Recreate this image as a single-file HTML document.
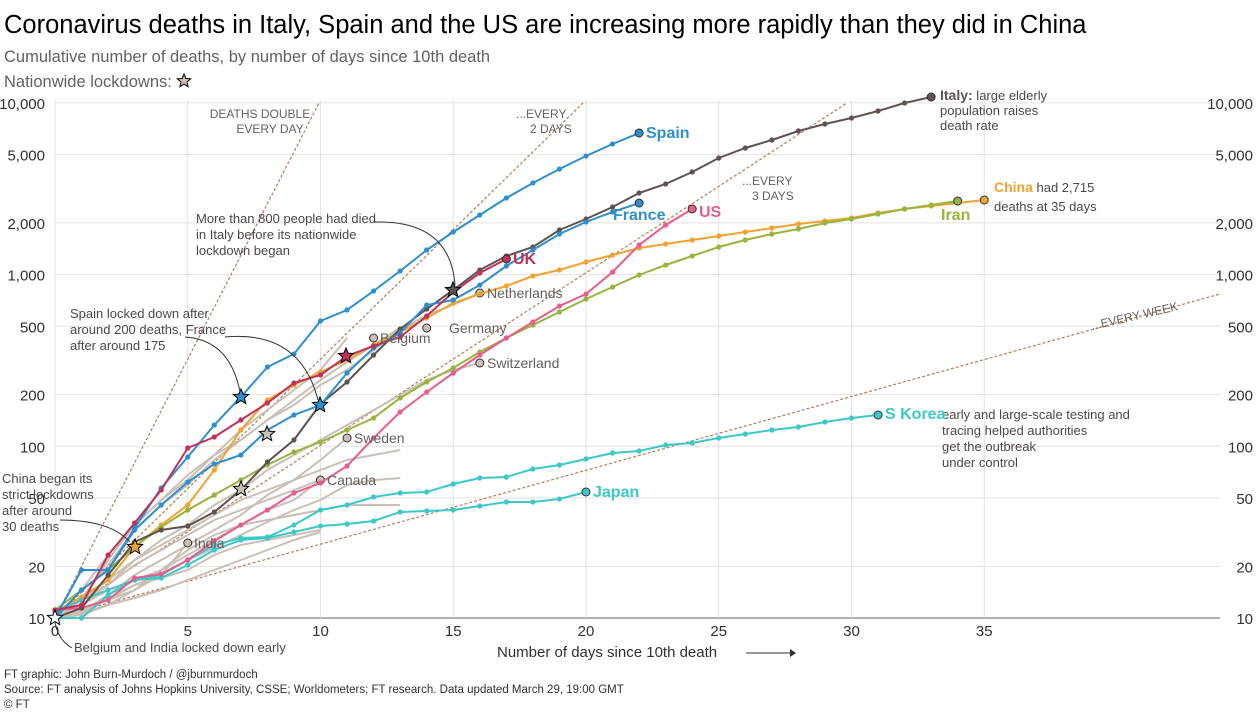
<!DOCTYPE html>
<html><head><meta charset="utf-8">
<style>
html,body{margin:0;padding:0;background:#fff;}
body{width:1260px;height:709px;overflow:hidden;font-family:"Liberation Sans",sans-serif;}
svg text{font-family:"Liberation Sans",sans-serif;}
</style></head><body>
<svg id="s" width="1260" height="709" xmlns="http://www.w3.org/2000/svg">
<text x="4" y="33" font-size="25.5" fill="#000">Coronavirus deaths in Italy, Spain and the US are increasing more rapidly than they did in China</text>
<text x="4" y="62" font-size="16.5" fill="#66605c">Cumulative number of deaths, by number of days since 10th death</text>
<text x="4" y="87" font-size="16.5" fill="#66605c">Nationwide lockdowns:</text>
<g id="grid"></g>
<g id="dash"></g>
<g id="gray"></g>
<g id="main"></g>
<g id="stars"></g>
<g font-size="12" fill="#66605c">
<text x="260" y="118" text-anchor="middle">DEATHS DOUBLE</text>
<text x="270" y="133" text-anchor="middle">EVERY DAY</text>
<text x="516" y="118">...EVERY</text>
<text x="530" y="133">2 DAYS</text>
<text x="742" y="185">...EVERY</text>
<text x="752" y="200">3 DAYS</text>
<text x="1092" y="330" transform="rotate(-13 1092 330)">...EVERY WEEK</text>
</g>
<g font-size="13" fill="#4d4845">
<text x="196" y="223">More than 800 people had died</text>
<text x="196" y="239">in Italy before its nationwide</text>
<text x="196" y="255">lockdown began</text>
<text x="70" y="318">Spain locked down after</text>
<text x="70" y="334">around 200 deaths, France</text>
<text x="70" y="350">after around 175</text>
<text x="2" y="483">China began its</text>
<text x="2" y="499">strict lockdowns</text>
<text x="2" y="515">after around</text>
<text x="2" y="531">30 deaths</text>
<text x="74" y="652">Belgium and India locked down early</text>
<text x="940" y="100"><tspan font-weight="bold" fill="#5e5350" font-size="14">Italy:</tspan> large elderly</text>
<text x="940" y="115">population raises</text>
<text x="940" y="130">death rate</text>
<text x="994" y="192"><tspan font-weight="bold" fill="#f2a230" font-size="14">China</tspan> had 2,715</text>
<text x="994" y="211">deaths at 35 days</text>
<text x="942" y="419">early and large-scale testing and</text>
<text x="942" y="435">tracing helped authorities</text>
<text x="942" y="451">get the outbreak</text>
<text x="942" y="467">under control</text>
</g>
<g fill="none" stroke="#333" stroke-width="1">
<path d="M375 222 Q450 220 455 285"/>
<path d="M185 337 Q230 340 240 392"/>
<path d="M225 337 Q300 330 318 400"/>
<path d="M60 520 Q110 520 130 542"/>
<path d="M55 622 Q58 640 72 648"/>
</g>
<g font-size="16" font-weight="bold">
<text x="646" y="138" fill="#2e8fd0">Spain</text>
<text x="613" y="220" fill="#2e8fd0">France</text>
<text x="699" y="217" fill="#e95d8c">US</text>
<text x="513" y="264" fill="#c0325a">UK</text>
<text x="941" y="220" fill="#97b43c">Iran</text>
<text x="885" y="419" fill="#3cc8c8">S Korea</text>
<text x="593" y="497" fill="#3cc8c8">Japan</text>
</g>
<g font-size="14" fill="#66605c">
<text x="487" y="298">Netherlands</text>
<text x="449" y="333">Germany</text>
<text x="380" y="343">Belgium</text>
<text x="487" y="368">Switzerland</text>
<text x="354" y="443">Sweden</text>
<text x="327" y="485">Canada</text>
<text x="194" y="548">India</text>
</g>
<text x="497" y="657" font-size="15" fill="#33302e">Number of days since 10th death</text>
<path d="M746 653 H790" stroke="#33302e"/><path d="M790 649 L796 653 L790 657Z" fill="#33302e"/>
<g font-size="11.5" fill="#33302e">
<text x="4" y="678">FT graphic: John Burn-Murdoch / @jburnmurdoch</text>
<text x="4" y="693">Source: FT analysis of Johns Hopkins University, CSSE; Worldometers; FT research. Data updated March 29, 19:00 GMT</text>
<text x="4" y="708">© FT</text>
</g>
</svg>
<script>
var NS="http://www.w3.org/2000/svg";
function el(p,t,a){var e=document.createElementNS(NS,t);for(var k in a)e.setAttribute(k,a[k]);p.appendChild(e);return e;}
function X(d){return 55+26.55*d;}
function Y(v){return 618-171.7*Math.log10(v/10);}
var g=document.getElementById('grid');
[10,20,50,100,200,500,1000,2000,5000,10000].forEach(function(v){
 var y=Y(v);el(g,'line',{x1:55,x2:1220,y1:y,y2:y,stroke:v==10?'#66605c':'#e6e1dd','stroke-width':1});
 var s=v.toLocaleString('en-US');
 var t=el(g,'text',{x:45,y:y+6,'text-anchor':'end','font-size':15,fill:'#33302e'});t.textContent=s;
 t=el(g,'text',{x:1253,y:y+6,'text-anchor':'end','font-size':15,fill:'#33302e'});t.textContent=s;
});
for(var d=0;d<=35;d+=5){var x=X(d);el(g,'line',{x1:x,x2:x,y1:100,y2:618,stroke:'#e6e1dd'});
 var t=el(g,'text',{x:x,y:636,'text-anchor':'middle','font-size':15,fill:'#33302e'});t.textContent=d;}
var dg=document.getElementById('dash');
[[1,319],[2,583],[3,847]].forEach(function(a){el(dg,'line',{x1:55,y1:618,x2:a[1],y2:103,stroke:'#b0805a','stroke-dasharray':'3,2','stroke-width':1.2});});
el(dg,'line',{x1:55,y1:618,x2:1220,y2:294,stroke:'#b0805a','stroke-dasharray':'3,2','stroke-width':1.2});
function series(par,ys,col,w,dots,endc){
 var pts=ys.map(function(y,i){return X(i)+','+y;}).join(' ');
 el(par,'polyline',{points:pts,fill:'none',stroke:col,'stroke-width':w});
 if(dots)ys.forEach(function(y,i){el(par,'circle',{cx:X(i),cy:y,r:2.6,fill:col});});
 if(endc){var i=ys.length-1;el(par,'circle',{cx:X(i),cy:ys[i],r:4,fill:col,stroke:'#33302e','stroke-width':1});}
}
var gr=document.getElementById('gray'),gc='#c9bfb5';
var grays=[
[618,600,560,525,500,480,455,440,420,405,385,370,350,330,315,305,293],
[618,598,565,530,505,485,460,440,420,400,380,362,345,328],
[618,590,555,525,500,475,455,430,410,390,370,338],
[618,605,585,560,540,525,505,490,470,455,440,425,410,395,380,370,363],
[618,612,595,575,560,545,530,515,495,480,460,438],
[618,610,600,590,570,555,540,525,510,500,480],
[618,615,605,590,575,543],
[612,600,580,560,545,530,515,500,490,480,470,460,455,450],
[620,612,598,585,575,560,548,535,522,510,500,485,480,478],
[615,605,590,580,570,550,535,525,520,515,510,505,505,505],
[618,612,600,585,578,570,555,545,540,535,530],
[610,600,585,565,550,535,520,510,500,490,480],
[618,613,605,598,590,580,570,560,550,540,532]];
grays.forEach(function(s){series(gr,s,gc,2,false,false);});
[[16,293],[14,328],[12,338],[16,363],[11,438],[10,480],[5,543]].forEach(function(p){el(gr,'circle',{cx:X(p[0]),cy:p[1],r:4,fill:'#c9bfb5',stroke:'#33302e'});});
var m=document.getElementById('main');
series(m,[612,597,580,547,525,505,470,430,400,385,372,360,345,332,318,303,294,286,276,270,262,255,248,244,240,236,232,228,224,221,218,213,209,206,203,200],'#f2a230',2,true,true);
series(m,[610,590,570,547,527,510,495,480,465,452,442,430,418,398,382,368,352,338,325,312,299,287,275,265,256,247,240,234,229,223,219,214,209,205,201],'#97b43c',2,true,true);
series(m,[618,618,595,580,575,560,545,538,537,525,510,505,497,493,492,484,478,477,469,465,459,453,451,445,443,438,434,430,427,422,418,415],'#3cc8c8',2,true,true);
series(m,[612,600,590,580,578,565,550,540,538,532,526,524,521,512,511,510,506,502,502,499,492],'#3cc8c8',2,true,true);
series(m,[610,608,600,578,574,560,541,525,510,493,483,466,438,412,392,373,355,338,322,306,294,272,245,225,209],'#e95d8c',2,true,true);
series(m,[618,608,575,542,530,526,512,490,462,440,404,382,355,329,309,290,270,256,247,230,219,207,193,184,172,158,148,140,131,124,118,111,103,97],'#5e5350',2,true,true);
series(m,[618,590,570,530,505,482,464,455,430,415,405,373,348,333,305,300,285,266,250,234,222,212,203],'#2e8fd0',2,true,true);
series(m,[618,570,570,528,488,457,425,397,367,354,321,310,291,271,250,232,215,198,183,169,156,144,133],'#2e8fd0',2,true,true);
series(m,[610,605,555,523,490,448,437,420,403,383,375,356,346,337,316,292,273,259],'#c0325a',2,true,true);
function star(cx,cy,col,r){var p=[];for(var i=0;i<10;i++){var rr=i%2?r*0.45:r,a=-Math.PI/2+i*Math.PI/5;p.push((cx+rr*Math.cos(a)).toFixed(1)+','+(cy+rr*Math.sin(a)).toFixed(1));}
 el(document.getElementById('stars'),'polygon',{points:p.join(' '),fill:col,stroke:'#000','stroke-width':1});}
star(453,290,'#5e5350',8);star(241,397,'#2e8fd0',8);star(320,405,'#2e8fd0',8);star(346,356,'#c0325a',8);
star(135,547,'#f2a230',8);star(267,434,'#c9bfb5',8);star(241,489,'#c9bfb5',8);star(55,618,'#fff',8);star(184,81,'#c9bfb5',7);
</script>
</body></html>
